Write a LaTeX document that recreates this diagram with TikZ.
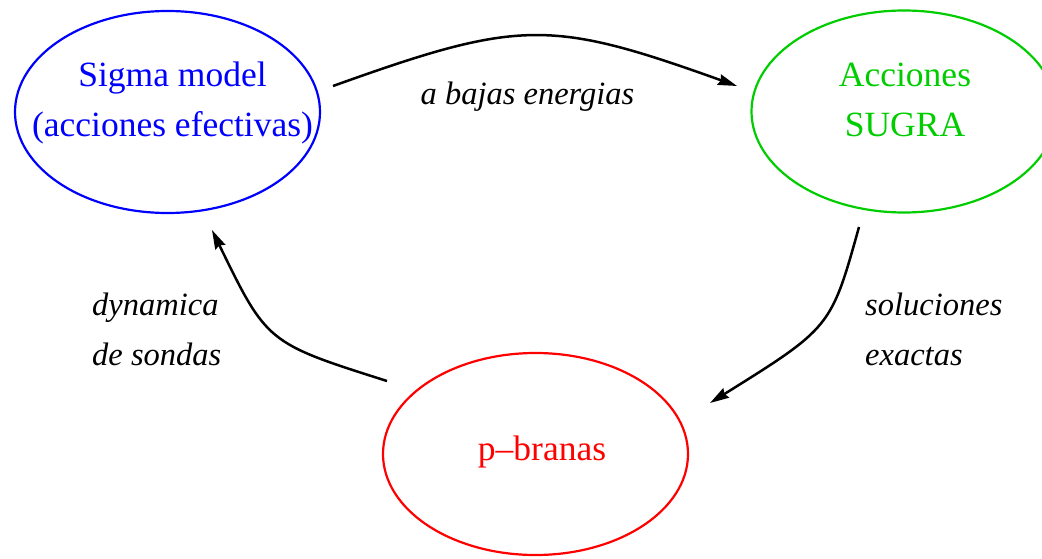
\documentclass[tikz,border=0pt]{standalone}
\usepackage{fontspec}
\setmainfont{Liberation Serif}
\usetikzlibrary{shapes.geometric,arrows.meta}
\definecolor{sigmablue}{RGB}{0,0,255}
\definecolor{sugragreen}{RGB}{0,205,0}
\definecolor{branered}{RGB}{255,0,0}
\begin{document}
\begin{tikzpicture}[x=1pt,y=1pt,
  blob/.style={ellipse, draw, line width=2.2pt, minimum width=305pt, minimum height=202pt, inner sep=0pt},
  ttl/.style={font=\fontsize{35.5}{50}\selectfont, anchor=base, inner sep=0pt},
  note/.style={font=\fontsize{32.5}{50}\selectfont\itshape, inner sep=0pt},
  flow/.style={line width=2.5pt, -{Stealth[length=19pt,width=11pt,inset=2pt]}}]
\useasboundingbox (0,0) rectangle (1042,558);

% the three theories
\node[blob, sigmablue] (sigma) at (167.5,446) {};
\node[blob, sugragreen] (sugra) at (904,446.5) {};
\node[blob, branered] (branes) at (535.5,104) {};

\node[ttl, text=sigmablue] (sigmaA) at (172.5,471) {Sigma model};
\node[ttl, text=sigmablue] (sigmaB) at (172.5,421) {(acciones efectivas)};
\node[ttl, text=sugragreen] (sugraA) at (905,471) {Acciones};
\node[ttl, text=sugragreen] (sugraB) at (905,421) {SUGRA};
\node[ttl, text=branered] (branesA) at (542,98) {p–branas};

% arrow end points
\coordinate (a0) at (333,472);
\coordinate (a1) at (737,472);
\coordinate (b0) at (859,331);
\coordinate (b1) at (710,155);
\coordinate (bc) at (831,230.5);
\coordinate (c0) at (387,177);
\coordinate (c1) at (212,328);
\coordinate (cc) at (267,215);

\draw[flow] (a0) .. controls (520,539) and (550,539) .. (a1);
\draw[flow] (b0) .. controls (bc) and (bc) .. (b1);
\draw[flow] (c0) .. controls (cc) and (cc) .. (c1);

% arrow labels
\node[note, anchor=base] (lowE) at (527.5,453) {a bajas energias};
\node[note, anchor=base west] (solA) at (865,243) {soluciones};
\node[note, anchor=base west] (solB) at (865,193) {exactas};
\node[note, anchor=base west] (dynA) at (92,243) {dynamica};
\node[note, anchor=base west] (dynB) at (92,193) {de sondas};
\end{tikzpicture}
\end{document}
